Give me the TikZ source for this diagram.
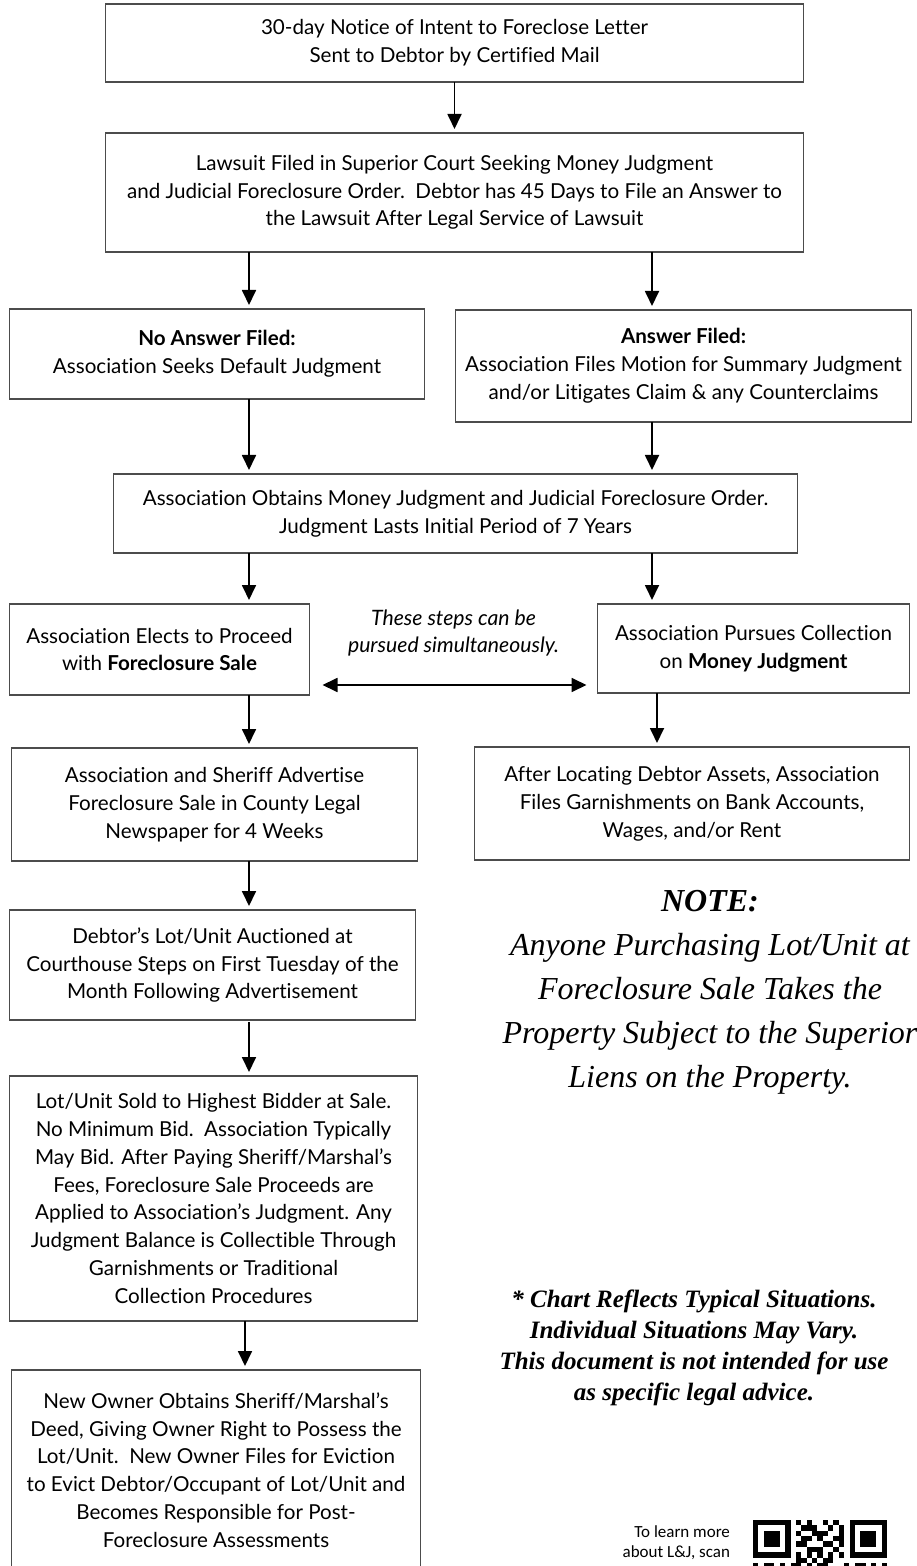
\documentclass[tikz,border=0pt]{standalone}
\usepackage{fontspec}
\setmainfont{Lato}[Ligatures=NoCommon]
\newfontfamily\notefont{Liberation Serif}
\newfontfamily\qrfont{Carlito}
\usepackage{tikz}
\usetikzlibrary{arrows.meta,positioning,calc}

\begin{document}
\begin{tikzpicture}[
    x=0.5pt, y=-0.5pt,
    box/.style={rectangle, draw=black!70, line width=0.6pt, inner sep=0pt, outer sep=0pt, align=center, font=\fontsize{10.3}{13.9}\selectfont},
    arrow/.style={->, line width=0.9pt, >={Triangle[length=7.5pt, width=7pt]}, shorten >=2pt}
]
\useasboundingbox (0,0) rectangle (916,1566);
\clip (0,0) rectangle (916,1566);

% Columns for the arrows
\coordinate (lcol) at (249,0);
\coordinate (rcol) at (652,0);
\coordinate (mcol) at (657,0);

% Main path
\node[box, minimum width=349pt, minimum height=39pt] (notice) at (454.5,43) {30-day Notice of Intent to Foreclose Letter\\Sent to Debtor by Certified Mail};
\node[box, minimum width=349pt, minimum height=59.5pt, below=25.5pt of notice] (lawsuit) {Lawsuit Filed in Superior Court Seeking Money Judgment\\and Judicial Foreclosure Order.\ \ Debtor has 45 Days to File an Answer to\\the Lawsuit After Legal Service of Lawsuit};

% Answer or no answer
\node[box, minimum width=207.5pt, minimum height=45pt, below=28.5pt of lawsuit.south west, anchor=north west, xshift=-48pt] (noans) {\textbf{No Answer Filed:}\\Association Seeks Default Judgment};
\node[box, minimum width=228pt, minimum height=56pt, below=29pt of lawsuit.south east, anchor=north east, xshift=54pt] (ans) {\textbf{Answer Filed:}\\Association Files Motion for Summary Judgment\\and/or Litigates Claim \& any Counterclaims};

\node[box, minimum width=342pt, minimum height=39.5pt, below=37.5pt of noans.south west, anchor=north west, xshift=52pt] (judg) {Association Obtains Money Judgment and Judicial Foreclosure Order.\\Judgment Lasts Initial Period of 7 Years};

% Two ways to collect
\node[box, minimum width=150pt, minimum height=45.5pt, below=25.5pt of judg.south west, anchor=north west, xshift=-52pt] (forecl) {Association Elects to Proceed\\with \textbf{Foreclosure Sale}};
\node[box, minimum width=156pt, minimum height=44.5pt, below=25.5pt of judg.south east, anchor=north east, xshift=56pt] (money) {Association Pursues Collection\\on \textbf{Money Judgment}};
\node[font=\fontsize{10.6}{13.9}\selectfont\itshape, align=center] (simnote) at ($(forecl.east)!0.5!(money.west)+(0,-16)$) {These steps can be\\pursued simultaneously.};

\node[box, minimum width=203pt, minimum height=56.5pt, below=26.5pt of forecl.south west, anchor=north west, xshift=1pt] (advert) {Association and Sheriff Advertise\\Foreclosure Sale in County Legal\\Newspaper for 4 Weeks};
\node[box, minimum width=217.5pt, minimum height=56.5pt, below=27pt of money.south east, anchor=north east] (garn) {After Locating Debtor Assets, Association\\Files Garnishments on Bank Accounts,\\Wages, and/or Rent};
\node[box, minimum width=203pt, minimum height=55pt, below=24.5pt of advert.south west, anchor=north west, xshift=-1pt] (auction) {Debtor’s Lot/Unit Auctioned at\\Courthouse Steps on First Tuesday of the\\Month Following Advertisement};
\node[box, minimum width=204pt, minimum height=122.5pt, below=28pt of auction.south west, anchor=north west] (sold) {Lot/Unit Sold to Highest Bidder at Sale.\\No Minimum Bid.\ \ Association Typically\\May Bid. After Paying Sheriff/Marshal’s\\Fees, Foreclosure Sale Proceeds are\\Applied to Association’s Judgment. Any\\Judgment Balance is Collectible Through\\Garnishments or Traditional\\Collection Procedures};
\node[box, minimum width=204.5pt, minimum height=100pt, below=24.5pt of sold.south west, anchor=north west, xshift=1pt] (owner) {New Owner Obtains Sheriff/Marshal’s\\Deed, Giving Owner Right to Possess the\\Lot/Unit.\ \ New Owner Files for Eviction\\to Evict Debtor/Occupant of Lot/Unit and\\Becomes Responsible for Post-\\Foreclosure Assessments};

% Notes
\node[font=\notefont\fontsize{16}{22}\selectfont\itshape, align=center, below=11.5pt of garn.south, xshift=9pt] (note) {\textbf{NOTE:}\\Anyone Purchasing Lot/Unit at\\Foreclosure Sale Takes the\\Property Subject to the Superior\\Liens on the Property.};
\node[font=\notefont\fontsize{12.5}{15.5}\selectfont\bfseries\itshape, align=center, below=91pt of note.south, xshift=-8pt] (chart) {* Chart Reflects Typical Situations.\\Individual Situations May Vary.\\This document is not intended for use\\as specific legal advice.};
\node[font=\qrfont\fontsize{8.5}{10}\selectfont, align=right, anchor=north east] (qrtext) at (737,1519) {To learn more\\about L\&J, scan};

% Arrows
\draw[arrow] (notice) -- (lawsuit);
\draw[arrow] (lawsuit.south -| lcol) -- (noans.north -| lcol);
\draw[arrow] (lawsuit.south -| rcol) -- (ans.north -| rcol);
\draw[arrow] (noans.south -| lcol) -- (judg.north -| lcol);
\draw[arrow] (ans.south -| rcol) -- (judg.north -| rcol);
\draw[arrow] (judg.south -| lcol) -- (forecl.north -| lcol);
\draw[arrow] (judg.south -| rcol) -- (money.north -| rcol);
\draw[arrow] (forecl.south -| lcol) -- (advert.north -| lcol);
\draw[arrow] (money.south -| mcol) -- (garn.north -| mcol);
\draw[arrow] (advert.south -| lcol) -- (auction.north -| lcol);
\draw[arrow] ([yshift=-1pt]auction.south -| lcol) -- (sold.north -| lcol);
\draw[arrow] ([xshift=-2pt]sold.south -| lcol) -- ([xshift=-2pt]owner.north -| lcol);

% Both ways at once
\draw[arrow, <->, shorten <=6.5pt, shorten >=5.5pt] ([yshift=5pt]forecl.south east) -- ([yshift=5pt]forecl.south east -| money.west);

% QR code (top part)
\foreach \fx in {753, 849.5} {
  \fill (\fx,1520) rectangle ++(37.5,37.5);
  \fill[white] (\fx+5.36,1525.36) rectangle ++(26.8,26.8);
  \fill (\fx+10.72,1530.72) rectangle ++(16.08,16.08);
}
\foreach \c/\r in {8/0,10/0,13/0,15/0, 9/1,10/1,11/1,14/1,16/1, 8/2,11/2,12/2,13/2,16/2,
                   9/3,10/3,12/3,15/3,16/3, 8/4,9/4,13/4,14/4,16/4, 10/5,11/5,12/5,15/5,
                   8/6,10/6,12/6,14/6,16/6, 8/7,9/7,11/7,13/7,14/7,
                   0/8,2/8,3/8,5/8,7/8,8/8,10/8,12/8,13/8,17/8,19/8,20/8,22/8,24/8}
  \fill (753+\c*5.36,1520+\r*5.36) rectangle ++(5.36,5.36);

\end{tikzpicture}
\end{document}
